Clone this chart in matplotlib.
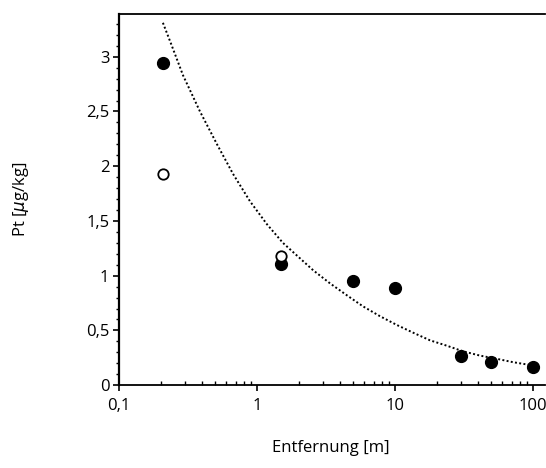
import matplotlib
matplotlib.use("Agg")
import matplotlib.pyplot as plt
from matplotlib.ticker import FixedLocator, MultipleLocator, FuncFormatter, LogLocator, NullFormatter

# Messwerte (gefuellte Kreise)
dist_filled = [0.21, 1.5, 5, 10, 30, 50, 100]
pt_filled = [2.94, 1.11, 0.95, 0.89, 0.27, 0.21, 0.17]

# Messwerte (offene Kreise)
dist_open = [0.21, 1.5]
pt_open = [1.93, 1.18]

# Ausgleichskurve
curve_x = [0.208, 0.238, 0.291, 0.386, 0.513, 0.670, 0.889, 1.18, 1.54, 2.55, 3.38,
           4.49, 5.86, 7.78, 10.3, 13.5, 17.9, 23.8, 31, 41.3, 55, 71.6, 100]
curve_y = [3.31, 3.12, 2.83, 2.50, 2.20, 1.93, 1.68, 1.47, 1.30, 1.05, 0.93,
           0.82, 0.72, 0.63, 0.55, 0.48, 0.41, 0.36, 0.31, 0.27, 0.24, 0.21, 0.18]

xticks = [0.1, 1, 10, 100]
xtick_labels = ["0,1", "1", "10", "100"]
yticks = [0, 0.5, 1, 1.5, 2, 2.5, 3]

plt.rcParams['font.family'] = ['Open Sans', 'DejaVu Sans']
plt.rcParams['mathtext.fontset'] = 'dejavusans'

fig = plt.figure(figsize=(5.46, 4.68), dpi=100)
ax = fig.add_axes([0.218, 0.177, 0.78, 0.793])

ax.plot(curve_x, curve_y, linestyle=(0, (1, 1.2)), color='black', linewidth=1.4)
ax.plot(dist_filled, pt_filled, 'o', color='black', markersize=8.5, zorder=3)
ax.plot(dist_open, pt_open, 'o', markerfacecolor='white', markeredgecolor='black',
        markeredgewidth=1.3, markersize=7.5, zorder=3)

ax.set_xscale('log')
ax.set_xlim(0.1, 122)
ax.set_ylim(0, 3.39)

ax.xaxis.set_major_locator(FixedLocator(xticks))
ax.xaxis.set_major_formatter(FuncFormatter(lambda v, p: xtick_labels[xticks.index(v)] if v in xticks else ""))
ax.xaxis.set_minor_locator(LogLocator(base=10, subs=range(2, 10), numticks=20))
ax.xaxis.set_minor_formatter(NullFormatter())

ax.yaxis.set_major_locator(FixedLocator(yticks))
ax.yaxis.set_major_formatter(FuncFormatter(lambda v, p: ("%g" % v).replace(".", ",")))
ax.yaxis.set_minor_locator(MultipleLocator(0.1))

ax.tick_params(axis='both', which='major', direction='out', length=4, width=1.2, labelsize=12)
ax.tick_params(axis='x', which='minor', direction='in', length=3, width=1)
ax.tick_params(axis='y', which='minor', direction='out', length=2.5, width=1)
ax.tick_params(axis='x', which='major', pad=5)
ax.tick_params(axis='y', which='major', pad=3)

ax.spines['right'].set_visible(False)
ax.spines['left'].set_linewidth(1.6)
ax.spines['bottom'].set_linewidth(1.3)
ax.spines['top'].set_linewidth(1.3)

fig.text(0.605, 0.025, "Entfernung [m]", ha='center', va='bottom', fontsize=12)
fig.text(0.038, 0.575, r"Pt [$\mu$g/kg]", ha='center', va='center', rotation=90, fontsize=12)

fig.savefig("out.png", dpi=100, facecolor='white')
